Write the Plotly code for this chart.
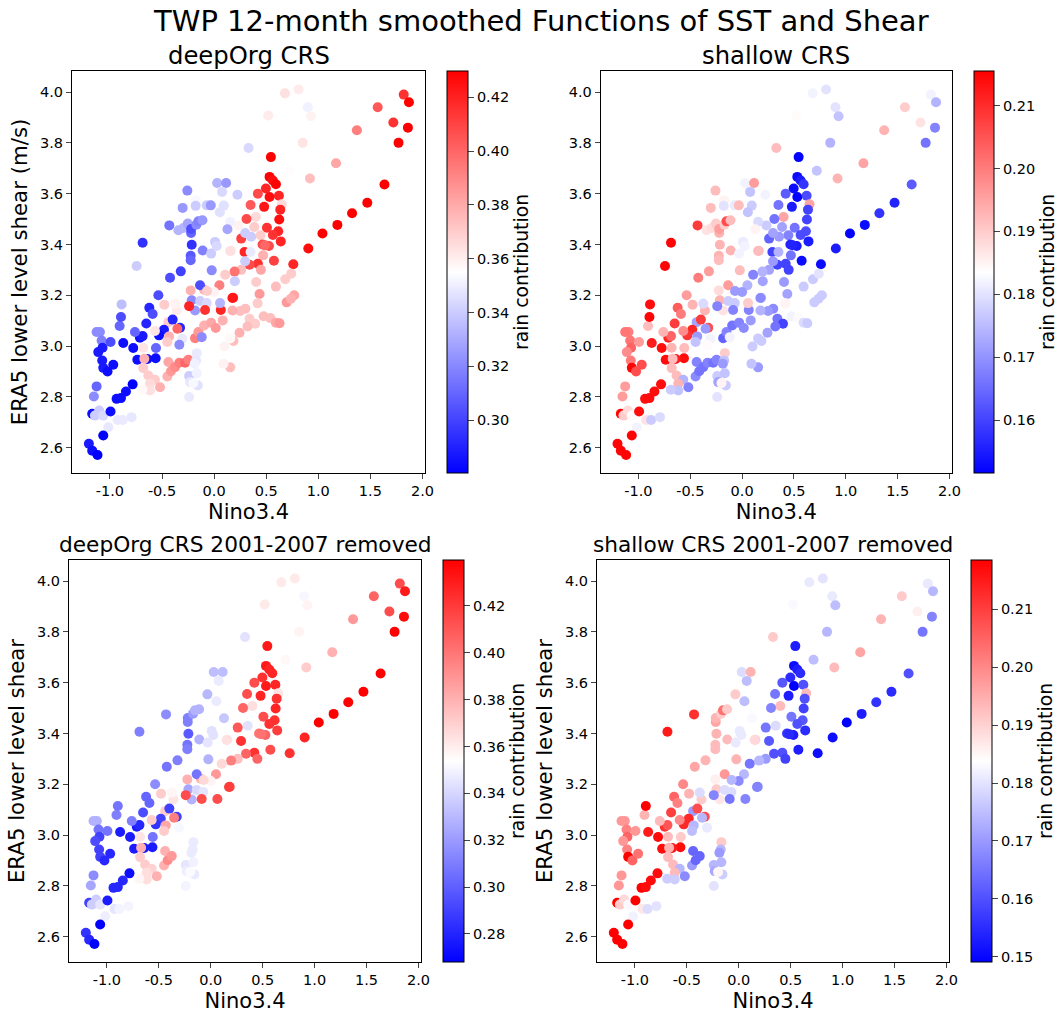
import plotly.graph_objects as go
N = None

nino = [
 1.82,1.87,1.57,1.72,1.86,1.77,1.37,1.17,.92,.85,
 .81,.68,.90,.93,.52,.72,.33,.545,
 1.635,1.47,1.324,1.183,1.04,.904,.76,
 .532,.564,.593,.497,.42,.532,.622,.65,.635,.48,
 .35,.40,.625,.311,.507,.615,.564,.64,.385,.446,
 .465,.526,.487,.47,.574,.42,.34,.449,.26,.196,
 .26,.292,.356,.298,.298,.224,.683,.74,.593,.404,
 .436,.696,.769,.737,.417,.475,.539,.593,.628,.34,
 .30,.25,.394,.32,.244,.183,.186,.199,.154,.234,
 .16,.35,
 -.257,.029,.115,.077,-.173,-.302,-.177,-.071,-.032,.093,.055,.154,
 -.43,-.343,-.295,-.253,-.221,-.221,-.17,-.151,-.112,-.215,
 -.225,-.225,-.11,.009,.025,-.029,-.023,.128,.154,
 -.744,
 -.686,-.423,-.32,-.535,-.622,-.59,-.651,
 -1.096,-1.128,-1.08,-.994,-.872,-.776,-1.071,-1.112,-1.074,-1.064,
 -1.023,-.968,-.907,-.894,-.888,-1.128,-1.154,-1.17,-1.144,-1.103,
 -1.064,-.994,-.936,-.894,-.846,-.782,-.926,-.878,-.792,-1.016,
 -1.064,-1.202,-1.17,-1.119,
 -.225,-.096,-.135,-.215,-.183,-.24,-.135,-.071,-.087,.064,
 .176,.057,.051,.106,0,-.068,-.478,-.359,-.375,-.439,
 -.398,-.327,-.481,-.529,-.712,-.686,-.76,-.568,-.353,-.433,
 -.449,-.305,-.334,-.558,-.561,-.737,-.641,-.67,-.68,-.68,
 -.632,-.568,-.519,-.616,-.616,-.688,-.449,-.439,-.414,-.375,
 -.334,-.279,-.247,-.167,-.173,-.186,-.24,-.231,-.167,-.157,
 -.24,-.199,-.183,-.151,-.119,-.096,-.029,.016,.083,.176,
 .154,.1,.09,
]
shear = [
 3.99,3.96,3.94,3.88,3.86,3.80,3.85,3.72,3.66,3.80,
 4.01,3.995,3.94,3.905,3.908,3.69,3.78,3.744,
 3.636,3.564,3.523,3.477,3.443,3.384,3.322,
 3.666,3.652,3.637,3.62,3.60,3.587,3.592,3.558,3.537,3.548,
 3.555,3.508,3.498,3.50,3.466,3.452,3.437,3.412,3.469,3.436,
 3.40,3.394,3.397,3.357,3.336,3.324,3.32,3.30,3.30,3.293,
 3.423,3.37,3.43,3.445,3.334,3.596,3.263,3.285,3.234,3.252,
 3.205,3.172,3.20,3.186,3.168,3.117,3.11,3.092,3.09,3.107,
 3.147,3.138,3.088,3.077,3.052,3.19,3.02,3.255,2.916,3.475,
 3.375,3.37,
 3.612,3.642,3.642,3.607,3.574,3.544,3.552,3.554,3.554,3.553,3.527,3.489,
 3.475,3.456,3.465,3.482,3.445,3.461,3.478,3.491,3.495,3.399,
 3.355,3.338,3.376,3.41,3.394,3.364,3.298,3.46,3.374,
 3.315,
 3.407,3.269,3.294,3.2,3.151,3.126,3.089,
 3.055,3.055,3.022,3.016,3.012,2.992,2.993,2.976,2.943,2.914,
 2.9,2.926,3.079,3.114,3.164,2.841,2.801,2.733,2.726,2.746,
 2.726,2.742,2.792,2.795,2.821,2.849,2.709,2.709,2.72,2.68,
 2.648,2.615,2.588,2.571,
 3.219,3.222,3.239,3.18,3.14,3.157,3.177,3.169,3.142,3.142,
 3.189,3.169,3.239,3.281,3.213,3.217,3.163,3.14,3.167,3.094,
 3.104,3.072,3.064,3.042,3.033,3.039,3.055,3.059,3.068,3.038,
 3.016,3.029,3.005,2.992,2.952,2.946,2.949,2.95,2.993,2.913,
 2.884,2.867,2.838,2.851,2.825,2.828,2.88,2.937,2.901,2.917,
 2.934,2.934,2.946,2.972,2.943,2.93,2.882,2.858,2.893,2.845,
 2.799,2.854,3.031,3.055,3.035,3.081,3.092,3.071,3.101,3.14,
 3.03,2.998,2.93,
]
deep = [
 .415,.430,.404,.415,.430,.430,.393,.381,.374,.363,
 .361,.364,.351,.359,.361,.356,.344,.430,
 .430,.430,.430,.430,.430,.426,.419,
 .430,.426,.430,.419,.408,.426,.419,.366,.419,.423,
 .404,.366,.426,.408,.415,.419,.415,.419,.370,.370,
 .408,.408,.400,.378,.411,.415,.408,.381,.374,.396,
 .411,.419,.340,.340,.340,.340,.370,.370,.374,.370,
 .385,.385,.381,.378,.370,.374,.374,.381,.385,.370,
 .374,.374,.370,.374,.378,.415,.374,.340,.374,.359,
 .364,.349,
 .321,.333,.325,.344,.353,.325,.340,.340,.325,.346,.346,.351,
 .314,.333,.333,.329,.310,.303,.321,.318,.325,.295,
 .306,.310,.318,.340,.344,.340,.321,.329,.364,
 .340,
 .295,.303,.299,.303,.291,.303,.291,
 .321,.321,.318,.303,.284,.284,.288,.288,.288,.288,
 .284,.284,.310,.303,.336,.310,.321,.284,.340,.340,
 .344,.284,.284,.284,.284,.280,.349,.349,.348,.348,
 .280,.288,.284,.280,
 .378,.378,.303,.321,.325,.419,.340,.344,.415,.419,
 .423,.333,.393,.370,.359,.370,.370,.361,.359,.370,
 .291,.291,.288,.284,.284,.288,.310,.363,.400,.378,
 .370,.349,.321,.310,.284,.284,.284,.378,.363,.370,
 .370,.370,.378,.366,.364,.357,.378,.381,.385,.389,
 .393,.400,.393,.349,.348,.351,.340,.348,.351,.346,
 .349,.353,.393,.385,.321,.378,.381,.385,.378,.378,
 .357,.359,.359,
]
shallow = [
 .182,.174,.190,.187,.168,.166,.193,.195,.193,.174,
 .180,.182,.180,.176,.184,.176,.192,.152,
 .163,.156,.158,.153,.152,.155,.153,
 .153,.155,.158,.153,.163,.152,.161,.195,.160,.155,
 .166,.195,.160,.166,.166,.161,.161,.155,.172,.168,
 .156,.155,.156,.166,.153,.160,.160,.160,.172,.174,
 .164,.160,.171,.172,.171,.182,.177,.180,.177,.171,
 .172,.177,.177,.177,.185,.182,.183,.179,.177,.166,
 .169,.171,.160,.166,.172,.174,.177,.172,.171,.177,
 .193,.174,
 .192,.182,.196,.176,.185,.192,.180,.181,.192,.177,.176,.179,
 .208,.187,.188,.190,.193,.196,.190,.206,.192,.193,
 .193,.192,.193,.181,.182,.182,.192,.185,.192,
 .215,
 .215,.200,.196,.196,.204,.200,.208,
 .200,.201,.201,.196,.212,.214,.203,.198,.200,.215,
 .206,.206,.192,.215,.214,.196,.196,.215,.190,.188,
 .184,.214,.214,.214,.214,.214,.187,.177,.179,.182,
 .215,.215,.215,.215,
 .188,.185,.196,.193,.187,.168,.177,.177,.168,.168,
 .169,.190,.174,.168,.171,.171,.193,.193,.179,.172,
 .208,.206,.211,.209,.211,.203,.193,.198,.171,.171,
 .176,.182,.184,.192,.214,.214,.212,.192,.193,.192,
 .192,.174,.168,.193,.176,.177,.169,.168,.166,.166,
 .168,.166,.168,.190,.176,.171,.177,.172,.176,.177,
 .180,.185,.164,.168,.182,.166,.168,.169,.171,.174,
 .177,.177,.176,
]
deep_removed = [
 .414,.431,.406,.414,.436,.440,.388,.380,.371,.358,
 .361,.361,.351,.358,.361,.356,.344,.431,
 .440,.440,.440,.440,.440,.427,.423,
 .431,.427,.427,.423,.414,.431,.427,.363,.423,.427,
 .414,.365,.427,.406,.414,.423,.423,.419,N,N,
 .401,.406,.401,N,.414,.423,.406,.406,.376,.397,
 .410,.423,.344,N,N,N,N,N,N,N,
 N,N,N,N,N,N,N,N,N,N,
 N,N,N,N,N,.414,N,N,N,N,
 .363,N,
 N,.332,.332,.347,N,N,N,N,.330,N,.347,N,
 .315,N,N,N,.311,.311,.320,.328,.328,.298,
 .307,.311,.328,.344,.344,.345,.328,.335,.364,
 N,
 .311,.307,.311,.315,.302,.302,.294,
 .328,.328,.307,.307,.277,.277,.290,.294,.290,.290,
 .281,.281,.311,.307,N,.315,.324,.290,.337,.337,
 .345,.277,.281,.281,.281,.272,.345,.350,.350,.348,
 .268,.285,.281,.268,
 .380,.380,.307,.324,.328,.414,.341,.345,.414,.414,
 .419,N,.388,.367,.358,.367,.371,.363,.357,.371,
 .290,.290,.290,.285,.277,.281,.311,.371,.397,.384,
 .371,.351,N,.307,.277,.277,.277,.380,.363,.371,
 .371,.369,.380,.365,.365,.357,.380,.380,.393,.388,
 N,N,N,.347,.347,.347,.345,.348,.349,.347,
 .350,.352,N,N,N,N,N,N,N,N,
 N,N,N,
]
shallow_removed = [
 .181,.174,.191,.186,.167,.165,.194,.196,.193,.174,
 .180,.181,.181,.175,.183,.175,.191,.153,
 .160,.155,.156,.153,.149,.151,.151,
 .151,.153,.155,.155,.161,.149,.160,.193,.160,.153,
 .165,.193,.158,.167,.165,.161,.160,.155,N,N,
 .156,.153,.155,N,.153,.160,.160,.158,.170,.174,
 .165,.161,.179,N,N,N,N,N,N,N,
 N,N,N,N,N,N,N,N,N,N,
 N,N,N,N,N,.167,N,N,N,N,
 .191,N,
 N,.179,.194,.175,N,N,N,N,.191,N,.175,N,
 .212,N,N,N,.196,.194,.191,.203,.191,.194,
 .193,.193,.193,.181,.181,.181,.194,.183,.189,
 N,
 .215,.196,.194,.200,.205,.201,.210,
 .198,.198,.201,.198,.215,.217,.205,.198,.201,.219,
 .205,.203,.194,.219,N,.198,.198,.219,.191,.189,
 .183,.219,.219,.217,.217,.217,.187,.179,.180,.182,
 .219,.219,.219,.219,
 .186,.184,.198,.191,.187,.167,.179,.179,.165,.167,
 .167,N,.174,.165,.168,.174,.194,.191,.179,.170,
 .208,.208,.213,.213,.212,.207,.193,.200,.174,.174,
 .175,.181,N,.191,.217,.217,.215,.194,.193,.193,
 .193,.174,.168,.193,.177,.177,.170,.163,.163,.163,
 N,N,N,.191,.174,.170,.174,.172,.174,.177,
 .180,.185,N,N,N,N,N,N,N,N,
 N,N,N,
]
assert len(nino)==len(shear)==len(deep)==len(shallow)==len(deep_removed)==len(shallow_removed), (len(nino),len(shear),len(deep),len(shallow),len(deep_removed),len(shallow_removed))

x_ticks = [-1.0,-0.5,0.0,0.5,1.0,1.5,2.0]
y_ticks = [2.6,2.8,3.0,3.2,3.4,3.6,3.8,4.0]
cb_ticks = [
 [.30,.32,.34,.36,.38,.40,.42],
 [.16,.17,.18,.19,.20,.21],
 [.28,.30,.32,.34,.36,.38,.40,.42],
 [.15,.16,.17,.18,.19,.20,.21],
]
c_limits = [(.2803,.4298),(.1516,.2155),(.2680,.4396),(.1491,.2185)]
titles = ["deepOrg CRS","shallow CRS","deepOrg CRS 2001-2007 removed","shallow CRS 2001-2007 removed"]
series = [deep,shallow,deep_removed,shallow_removed]
y_titles = ["ERA5 lower level shear (m/s)",None,"ERA5 lower level shear","ERA5 lower level shear"]

W,H = 1058,1015
FONT = "DejaVu Sans"
boxes = [(72,425,71,473,446.5,467),(600.7,952,71,473,974,994),(69,421,560,962,442.5,463.5),(597,949,560,962,971,992)]
bwr = [[0,"#0000ff"],[.5,"#ffffff"],[1,"#ff0000"]]
title_pos = [(249,55,24.3),(776,55,24.3),(245,544,21.7),(773,544,21.7)]

fig = go.Figure()
layout = dict(width=W,height=H,margin=dict(l=0,r=0,t=0,b=0,autoexpand=False),paper_bgcolor="white",plot_bgcolor="white",
              font=dict(family=FONT,color="#000"),showlegend=False,annotations=[])
for i,(vals,box) in enumerate(zip(series,boxes)):
    n = i+1
    l,r,t,b,cl,cr = box
    keep = [j for j,v in enumerate(vals) if v is not None]
    fig.add_trace(go.Scatter(x=[nino[j] for j in keep],y=[shear[j] for j in keep],mode="markers",
        xaxis=f"x{n}",yaxis=f"y{n}",
        marker=dict(size=10,color=[vals[j] for j in keep],coloraxis=f"coloraxis{n}",line=dict(width=0))))
    ax = dict(showgrid=False,zeroline=False,showline=True,mirror=True,linecolor="#000",linewidth=1,
              ticks="outside",ticklen=5,tickwidth=1,tickfont=dict(size=14.5))
    xa = dict(ax,domain=[l/W,r/W],range=[-1.364,2.024],tickvals=x_ticks,ticktext=[f"{v:.1f}" for v in x_ticks],
              anchor=f"y{n}",title=dict(text="Nino3.4",font=dict(size=21),standoff=5))
    ya = dict(ax,domain=[1-b/H,1-t/H],range=[2.5,4.083],tickvals=y_ticks,ticktext=[f"{v:.1f}" for v in y_ticks],
              anchor=f"x{n}")
    if y_titles[i]:
        ya["title"] = dict(text=y_titles[i],font=dict(size=21.3),standoff=6)
    layout[f"xaxis{n}"] = xa
    layout[f"yaxis{n}"] = ya
    lo,hi = c_limits[i]
    layout[f"coloraxis{n}"] = dict(cmin=lo,cmax=hi,colorscale=bwr,colorbar=dict(
        x=cl/W,xanchor="left",y=1-b/H,yanchor="bottom",len=(b-t)/H,lenmode="fraction",
        thickness=cr-cl,thicknessmode="pixels",xpad=0,ypad=0,outlinewidth=1,outlinecolor="#000",
        ticks="outside",ticklen=6,tickwidth=1,tickvals=cb_ticks[i],
        ticktext=[f"{v:.2f}" for v in cb_ticks[i]],tickfont=dict(size=14.5),
        title=dict(text="rain contribution",side="right",font=dict(size=18.8))))
    tx,ty,ts = title_pos[i]
    layout["annotations"].append(dict(text=titles[i],x=tx/W,y=1-ty/H,xref="paper",yref="paper",showarrow=False,
                                      xanchor="center",yanchor="middle",font=dict(size=ts)))
layout["annotations"].append(dict(text="TWP 12-month smoothed Functions of SST and Shear",x=541/W,y=1-21/H,xref="paper",yref="paper",
                                  showarrow=False,xanchor="center",yanchor="middle",font=dict(size=29)))
fig.update_layout(**layout)
fig.write_html("out.html",post_script="document.body.style.margin='0';",config={"displayModeBar":False})
